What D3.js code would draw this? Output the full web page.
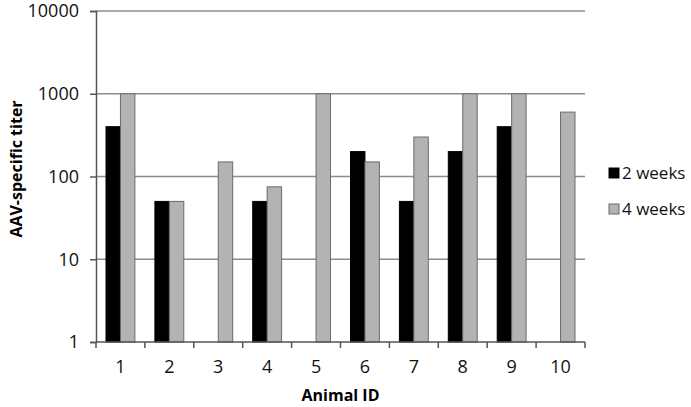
<!DOCTYPE html>
<html>
<head>
<meta charset="utf-8">
<script src="https://cdn.jsdelivr.net/npm/d3@7"></script>
<style>
  body { margin: 0; background: #fff; }
  svg { font-family: "Open Sans", Lato, sans-serif; }
</style>
</head>
<body>
<svg id="chart"></svg>
<script>
// chart data
var animals = ["1", "2", "3", "4", "5", "6", "7", "8", "9", "10"];
var twoWeeks = [400, 50, null, 50, null, 200, 50, 200, 400, null];
var fourWeeks = [1000, 50, 150, 75, 1000, 150, 300, 1000, 1000, 600];
var seriesNames = ["2 weeks", "4 weeks"];
var yTicks = [1, 10, 100, 1000, 10000];

var svgWidth = 691, svgHeight = 407;
var margin = { top: 11, right: 106, bottom: 65, left: 96 };
var width = svgWidth - margin.left - margin.right;
var height = svgHeight - margin.top - margin.bottom;

var svg = d3.select("#chart")
  .attr("width", svgWidth)
  .attr("height", svgHeight);

var g = svg.append("g")
  .attr("transform", "translate(" + margin.left + "," + margin.top + ")");

var x = d3.scaleBand().domain(animals).range([0, width]).paddingInner(0).paddingOuter(0);
var x1 = d3.scaleBand().domain(seriesNames).range([10, x.bandwidth() - 10]);
var y = d3.scaleLog().domain([1, 10000]).range([height, 0]);

var colors = { "2 weeks": "#000000", "4 weeks": "#b3b3b3" };
var strokes = { "2 weeks": "#000000", "4 weeks": "#6b6b6b" };

// gridlines
g.append("g")
  .selectAll("line")
  .data(yTicks.slice(1))
  .enter().append("line")
    .attr("x1", 0)
    .attr("x2", width)
    .attr("y1", function(d) { return y(d); })
    .attr("y2", function(d) { return y(d); })
    .attr("stroke", "#8c8c8c")
    .attr("stroke-width", 1.3);

// bars
var rows = [];
animals.forEach(function(a, i) {
  rows.push({ animal: a, series: "2 weeks", value: twoWeeks[i] });
  rows.push({ animal: a, series: "4 weeks", value: fourWeeks[i] });
});

g.append("g")
  .selectAll("rect")
  .data(rows.filter(function(d) { return d.value != null; }))
  .enter().append("rect")
    .attr("x", function(d) { return x(d.animal) + x1(d.series); })
    .attr("width", x1.bandwidth())
    .attr("y", function(d) { return y(d.value); })
    .attr("height", function(d) { return height - y(d.value); })
    .attr("fill", function(d) { return colors[d.series]; })
    .attr("stroke", function(d) { return strokes[d.series]; })
    .attr("stroke-width", 1);

// y axis
var yAxis = g.append("g")
  .call(d3.axisLeft(y).tickValues(yTicks).tickFormat(d3.format("d")).tickSizeOuter(0).tickSize(6).tickPadding(11));
yAxis.select(".domain").attr("stroke", "#555").attr("stroke-width", 1.5);
yAxis.selectAll(".tick line").attr("stroke", "#555").attr("stroke-width", 1.5);
yAxis.selectAll("text").attr("font-size", 18).attr("fill", "#111").attr("font-family", "'Open Sans', sans-serif");

// x axis with ticks between categories
var xAxisG = g.append("g").attr("transform", "translate(0," + height + ")");
xAxisG.append("line")
  .attr("x1", 0).attr("x2", width)
  .attr("stroke", "#555").attr("stroke-width", 1.5);
var bounds = animals.map(function(a) { return x(a); }).concat([width]);
xAxisG.selectAll("line.tk")
  .data(bounds)
  .enter().append("line")
    .attr("class", "tk")
    .attr("x1", function(d) { return d; })
    .attr("x2", function(d) { return d; })
    .attr("y1", 0).attr("y2", 6)
    .attr("stroke", "#555").attr("stroke-width", 1.5);
xAxisG.selectAll("text")
  .data(animals)
  .enter().append("text")
    .attr("x", function(d) { return x(d) + x.bandwidth() / 2; })
    .attr("y", 31)
    .attr("text-anchor", "middle")
    .attr("font-size", 18)
    .attr("fill", "#111")
    .text(function(d) { return d; });

// axis titles
svg.append("text")
  .attr("x", margin.left + width / 2)
  .attr("y", 401)
  .attr("text-anchor", "middle")
  .attr("font-size", 16)
  .attr("font-weight", "bold")
  .text("Animal ID");

svg.append("text")
  .attr("transform", "translate(22,169) rotate(-90)")
  .attr("text-anchor", "middle")
  .attr("font-size", 16)
  .attr("font-weight", "bold")
  .text("AAV-specific  titer");

// legend
var legend = svg.append("g")
  .selectAll("g")
  .data(seriesNames)
  .enter().append("g")
    .attr("transform", function(d, i) { return "translate(609," + (168 + i * 36) + ")"; });
legend.append("rect")
  .attr("width", 10).attr("height", 10)
  .attr("fill", function(d) { return colors[d]; })
  .attr("stroke", function(d) { return strokes[d]; });
legend.append("text")
  .attr("x", 13)
  .attr("y", 11)
  .attr("font-size", 17)
  .attr("fill", "#111")
  .text(function(d) { return d; });
</script>
</body>
</html>
